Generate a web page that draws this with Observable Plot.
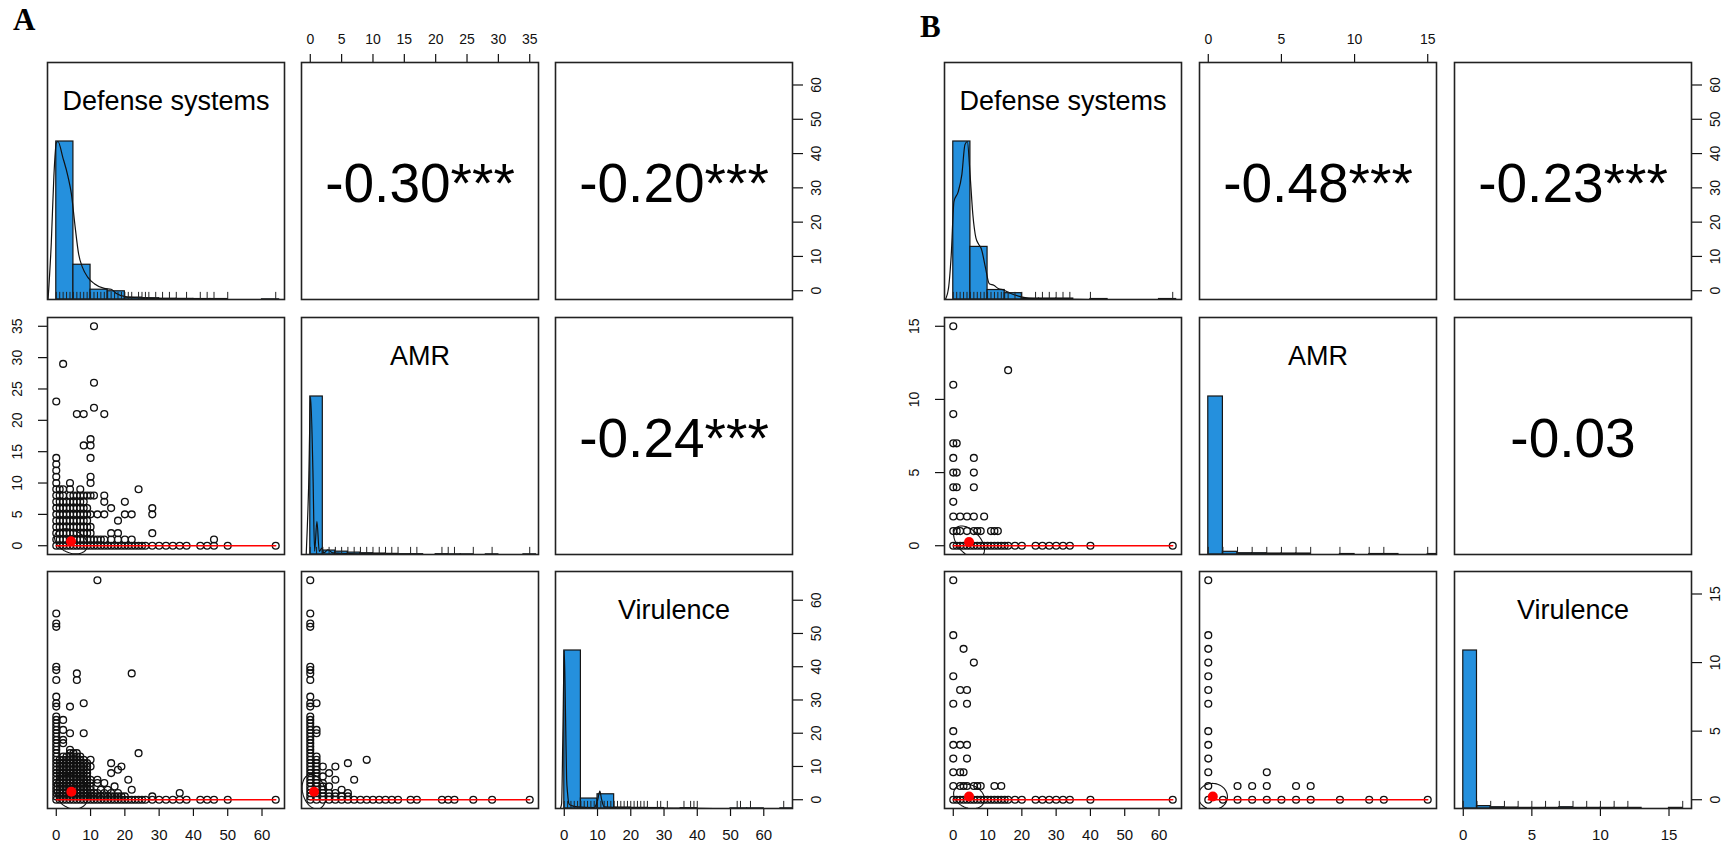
<!DOCTYPE html>
<html><head><meta charset="utf-8">
<script src="https://cdn.jsdelivr.net/npm/d3@7"></script>
<script src="https://cdn.jsdelivr.net/npm/@observablehq/plot@0.6"></script>
<style>
body{margin:0;background:#fff;}
#wrap{position:relative;width:1726px;height:844px;overflow:hidden;background:#fff;}
.tag{position:absolute;font-family:"Liberation Serif","Times New Roman",serif;font-weight:bold;font-size:31px;line-height:1;color:#000;}
</style></head><body><div id="wrap"><div class="tag" id="tagA">A</div><div class="tag" id="tagB">B</div></div>
<script>
// ---------------- DATA ----------------
const variableNames = ["Defense systems", "AMR", "Virulence"];

// Panel A
const rangeDefA = [0, 64], rangeAmrA = [0, 35], rangeVirA = [0, 66];
const ticksDefA = [0, 10, 20, 30, 40, 50, 60];
const ticksAmrA = [0, 5, 10, 15, 20, 25, 30, 35];
const ticksVirA = [0, 10, 20, 30, 40, 50, 60];
const corrA = ["-0.30***", "-0.20***", "-0.24***"];
const histDefA = [[0,5,1],[5,10,0.22],[10,15,0.062],[15,20,0.052],[20,25,0.012],[25,30,0.008],[30,35,0.005],[35,40,0.004],[40,45,0.003],[45,50,0.003],[60,65,0.001]];
const histAmrA = [[0,2,1],[2,4,0.025],[4,6,0.018],[6,8,0.012],[8,10,0.008],[10,12,0.006],[12,14,0.004],[14,16,0.002],[16,18,0.002],[20,22,0.002],[22,24,0.001],[24,26,0.001],[28,30,0.001],[34,36,0.001]];
const histVirA = [[0,5,1],[5,10,0.063],[10,15,0.09],[15,20,0.006],[20,25,0.004],[25,30,0.003],[35,40,0.002],[50,55,0.001],[55,60,0.001],[65,70,0.001]];
const densDefA = [[-2.4,0],[-1.45,0.36],[-0.7,0.78],[0.0,0.99],[0.5,1.0],[1.9,0.9],[3.4,0.78],[4.4,0.67],[5.5,0.46],[6.5,0.29],[7.7,0.2],[9.2,0.14],[11.1,0.1],[14,0.07],[16,0.065],[17.4,0.04],[20.8,0.015],[24.7,0.01],[35.4,0]];
const densAmrA = [[-0.65,0],[-0.27,0.42],[0.05,1.0],[0.42,0.53],[0.69,0.02],[1.06,0.21],[1.43,0.02],[1.85,0.04],[2.17,0.01],[2.8,0.03],[3.6,0.01],[4.9,0.008],[7.6,0.003],[10,0]];
const densVirA = [[-1.2,0],[-0.8,0.03],[-0.4,0.51],[0,1.0],[0.4,0.56],[0.7,0.19],[1,0.095],[1.4,0.03],[2,0.02],[4,0.01],[9,0.006],[10,0.05],[10.7,0.11],[11.2,0.06],[12,0.01],[18,0.005],[33,0.003],[45,0]];
const rugDefA = [0,1,2,3,4,5,6,7,8,9,10,11,12,13,14,15,16,17,18,19,20,21,22,24,25,26,27,29,31,33,35,38,42,44,46,50,64];
const rugAmrA = [0,1,2,3,4,5,6,7,8,9,10,11,12,13,14,16,17,21,22,23,26,29,35];
const rugVirA = [0,1,2,3,4,5,6,7,8,9,10,11,12,13,14,15,16,17,18,19,20,21,22,23,24,25,28,29,31,36,38,39,40,52,53,56,66];
// scatter rows: [y value, list of x values]
const scatDefAmrA = [
  [35,[11]],[29,[2]],[26,[11]],[23,[0]],[22,[11]],[21,[6,8,14]],[17,[10]],[16,[8,10]],[14,[0,10]],[13,[0]],[12,[0]],[11,[0,10]],[10,[0,4,10]],
  [9,[0,1,2,4,7,24]],[8,[0,1,2,4,5,6,7,8,9,10,11,14]],[7,[0,1,2,3,4,5,6,7,8,14,20]],[6,[0,1,2,3,4,5,6,7,8,9,16,28]],
  [5,[0,1,2,3,4,5,6,7,8,9,10,12,14,20,22,28]],[4,[0,1,2,3,4,5,6,7,8,9,18]],[3,[0,1,2,3,4,5,6,7,8,9,10]],
  [2,[0,1,2,3,4,5,6,7,8,9,10,16,18,28]],[1,[0,1,2,3,4,5,6,7,8,9,10,11,12,13,14,16,18,20,22,46]],
  [0,[0,1,2,3,4,5,6,7,8,9,10,11,12,13,14,15,16,17,18,19,20,21,22,23,24,25,26,28,30,32,34,36,38,42,44,46,50,64]]
];
const scatDefVirA = [
  [66,[12]],[56,[0]],[53,[0]],[52,[0]],[40,[0]],[39,[0]],[38,[6,22]],[36,[0,6]],[31,[0]],[29,[0,8]],[28,[0,4]],[25,[0]],[24,[0,2]],[23,[0]],[22,[0]],
  [21,[0,2]],[20,[0,4,8]],[19,[0]],[18,[0,2]],[17,[0,2]],[16,[0]],[15,[0,4]],[14,[0,4,5,6,24]],[13,[0,2,3,4,5,6,7]],[12,[0,1,2,3,4,5,6,7,8,10]],
  [11,[0,1,2,3,4,5,6,7,8,9,16]],[10,[0,1,2,3,4,5,6,7,8,9,10,19]],[9,[0,1,2,3,4,5,6,7,8,9,18]],[8,[0,1,2,3,4,5,6,7,8,9,16]],[7,[0,1,2,3,4,5,6,7,8,9]],
  [6,[0,1,2,3,4,5,6,7,8,9,10,12,21]],[5,[0,1,2,3,4,5,6,7,8,9,10,12,14]],[4,[0,1,2,3,4,5,6,7,8,9,10,17]],[3,[0,1,2,3,4,5,6,7,8,9,10,13,15,22]],
  [2,[0,1,2,3,4,5,6,7,8,9,10,11,12,14,16,18,36]],[1,[0,1,2,3,4,5,6,7,8,9,10,11,12,13,14,15,16,17,18,19,20,28]],
  [0,[0,1,2,3,4,5,6,7,8,9,10,11,12,13,14,15,16,17,18,19,20,21,22,23,24,25,26,28,30,32,34,36,38,42,44,46,50,64]]
];
const scatAmrVirA = [
  [66,[0]],[56,[0]],[53,[0]],[52,[0]],[40,[0]],[39,[0]],[38,[0]],[36,[0]],[31,[0]],[29,[0,1]],[28,[0]],[25,[0]],[24,[0]],[23,[0]],[22,[0]],
  [21,[0,1]],[20,[0,1]],[19,[0]],[18,[0]],[17,[0]],[16,[0]],[15,[0]],[14,[0]],[13,[0,1]],[12,[0,1,9]],[11,[0,1,6]],[10,[0,1,2,4]],[9,[0,1]],
  [8,[0,1,3]],[7,[0,1,2]],[6,[0,1,4,7]],[5,[0,1,2]],[4,[0,1,2,3]],[3,[0,1,2,5]],[2,[0,1,2,3,4,6]],[1,[0,1,2,3,4,5,6]],
  [0,[0,1,2,3,4,5,6,7,8,9,10,11,12,13,14,16,17,21,22,23,26,29,35]]
];
const meanA = [[4.3,0.7],[4.4,2.4],[0.6,2.4]];
const ellipseA = [[4.8,2.0,-0.30],[5.0,5.2,-0.20],[1.9,5.2,-0.24]];  // sd x, sd y, r
const smoothA = [[[0,0],[64,0]],[[0,0],[64,0]],[[0,0],[35,0]]];

// Panel B
const rangeDefB = [0, 64], rangeAmrB = [0, 15], rangeVirB = [0, 16];
const ticksDefB = [0, 10, 20, 30, 40, 50, 60];
const ticksAmrB = [0, 5, 10, 15];
const ticksVirB = [0, 5, 10, 15];
const corrB = ["-0.48***", "-0.23***", "-0.03"];
const histDefB = [[0,5,1],[5,10,0.333],[10,15,0.06],[15,20,0.04],[20,25,0.006],[25,30,0.006],[30,35,0.006],[40,45,0.003],[60,65,0.003]];
const histAmrB = [[0,1,1],[1,2,0.017],[2,3,0.008],[3,4,0.008],[4,5,0.006],[5,6,0.006],[6,7,0.006],[9,10,0.003],[11,12,0.003],[12,13,0.003],[15,16,0.003]];
const histVirB = [[0,1,1],[1,2,0.015],[2,3,0.008],[3,4,0.006],[4,5,0.004],[5,6,0.004],[6,7,0.004],[7,8,0.008],[8,9,0.004],[9,10,0.004],[10,11,0.004],[11,12,0.004],[12,13,0.004],[15,16,0.004]];
const densDefB = [[-2.3,0],[-1.4,0.07],[-0.6,0.28],[0.2,0.62],[1.4,0.68],[2.5,0.79],[3.4,0.98],[4.1,1.0],[4.9,0.79],[5.7,0.54],[6.6,0.39],[7.4,0.35],[8.2,0.32],[9.4,0.2],[10.5,0.1],[11.8,0.09],[13.1,0.07],[14.7,0.06],[16.6,0.04],[19.8,0.017],[24.6,0.004],[31,0.002],[40,0]];
const rugDefB = [0,1,2,3,4,5,6,7,8,9,10,11,12,13,14,15,16,18,20,24,26,28,30,32,34,40,64];
const rugAmrB = [0,1,2,3,4,5,6,7,9,11,12,15];
const rugVirB = [0,1,2,3,4,5,6,7,8,9,10,11,12,16];
const scatDefAmrB = [
  [15,[0]],[12,[16]],[11,[0]],[9,[0]],[7,[0,1]],[6,[0,6]],[5,[0,1,6]],[4,[0,1,6]],[3,[0]],[2,[0,2,4,6,9]],[1,[0,1,2,4,6,7,8,11,12,13]],
  [0,[0,1,2,3,4,5,6,7,8,9,10,11,12,13,14,15,16,18,20,24,26,28,30,32,34,40,64]]
];
const scatDefVirB = [
  [16,[0]],[12,[0]],[11,[3]],[10,[6]],[9,[0]],[8,[2,4]],[7,[0,4]],[5,[0]],[4,[0,2,4]],[3,[0,4]],[2,[0,2,3]],[1,[0,2,3,4,6,7,8,12,14]],
  [0,[0,1,2,3,4,5,6,7,8,9,10,11,12,13,14,15,16,18,20,24,26,28,30,32,34,40,64]]
];
const scatAmrVirB = [
  [16,[0]],[12,[0]],[11,[0]],[10,[0]],[9,[0]],[8,[0]],[7,[0]],[5,[0]],[4,[0]],[3,[0]],[2,[0,4]],[1,[0,2,3,4,6,7]],
  [0,[0,1,2,3,4,5,6,7,9,11,12,15]]
];
const meanB = [[4.6,0.25],[4.6,0.24],[0.31,0.24]];
const ellipseB = [[4.5,1.1,-0.48],[4.5,0.9,-0.23],[1.0,0.95,-0.03]];
const smoothB = [[[0,0],[64,0]],[[0,0],[64,0]],[[0,0],[15,0]]];

// ---------------- LAYOUT / STYLE ----------------
const wrap = document.getElementById("wrap");
const FONT = '"Liberation Sans", Arial, Helvetica, sans-serif';
const HIST = "#2590DD";
const PS = 237, M = 50;
const rowTop = [62.3, 316.8, 571.3];
const colLeftA = [46.6, 300.6, 554.6];
const colLeftB = [944, 1198.8, 1453.6];

document.getElementById("tagA").style.cssText = "left:13px;top:4px;";
document.getElementById("tagB").style.cssText = "left:920px;top:11px;";

function pad(r) { const d = (r[1] - r[0]) * 0.04; return [r[0] - d, r[1] + d]; }

function mk(left, top, xdom, ydom, marks, frame = true) {
  const svg = Plot.plot({
    width: PS + 2 * M, height: PS + 2 * M,
    marginTop: M, marginRight: M, marginBottom: M, marginLeft: M,
    x: {domain: xdom, axis: null}, y: {domain: ydom, axis: null},
    style: {background: "transparent", overflow: "visible", fontFamily: FONT, color: "#111"},
    marks: frame ? [...marks, Plot.frame({stroke: "#222", strokeWidth: 1.6})] : marks
  });
  svg.style.position = "absolute";
  svg.style.left = (left - M) + "px";
  svg.style.top = (top - M) + "px";
  svg.style.maxWidth = "none";
  wrap.appendChild(svg);
}

const topAxis = ticks => [Plot.axisX({ticks, anchor: "top", tickSize: 9, tickPadding: 10, fontSize: 14, strokeWidth: 1.2})];
const bottomAxis = ticks => [Plot.axisX({ticks, anchor: "bottom", tickSize: 8, tickPadding: 13, fontSize: 15, strokeWidth: 1.2})];
const rightAxis = ticks => [
  Plot.axisY({ticks, anchor: "right", tickSize: 10, tickFormat: () => "", strokeWidth: 1.2}),
  Plot.text(ticks, {y: d => d, text: d => String(d), frameAnchor: "right", rotate: -90, textAnchor: "middle", lineAnchor: "top", dx: 19, fontSize: 14, fill: "#111"})
];
const leftAxis = ticks => [
  Plot.axisY({ticks, anchor: "left", tickSize: 9, tickFormat: () => "", strokeWidth: 1.2}),
  Plot.text(ticks, {y: d => d, text: d => String(d), frameAnchor: "left", rotate: -90, textAnchor: "middle", lineAnchor: "bottom", dx: -26, fontSize: 14, fill: "#111"})
];

function ellipsePoints(center, e) {
  const [cx, cy] = center, [sx, sy, r] = e, d = Math.acos(r), pts = [];
  for (let k = 0; k <= 72; k++) { const t = k / 72 * 2 * Math.PI; pts.push([cx + sx * Math.cos(t + d / 2), cy + sy * Math.cos(t - d / 2)]); }
  return pts;
}

function matrix(cols, v) {
  const idx = {"1,0": 0, "2,0": 1, "2,1": 2};
  const cidx = {"0,1": 0, "0,2": 1, "1,2": 2};
  for (let i = 0; i < 3; i++) for (let j = 0; j < 3; j++) {
    const left = cols[j], top = rowTop[i];
    const xdom = pad(v.ranges[j]);
    let ydom = pad(v.ranges[i]);
    const marks = [];
    if (i === j) {
      ydom = [0, 1.5];
      marks.push(Plot.rect(v.hist[i], {x1: d => d[0], x2: d => d[1], y1: 0, y2: d => d[2], fill: HIST, stroke: "#161616", strokeWidth: 1.2, clip: true}));
      if (v.dens[i]) marks.push(Plot.line(v.dens[i], {x: d => d[0], y: d => d[1], stroke: "#111", strokeWidth: 1.2, curve: "monotone-x", clip: true}));
      marks.push(Plot.ruleX(v.rug[i], {x: d => d, y1: 0, y2: 0.045, stroke: "#222", strokeWidth: 1, clip: true}));
      marks.push(Plot.text([variableNames[i]], {text: d => d, frameAnchor: "top", lineAnchor: "top", dy: 28, fontSize: 27, fill: "#000"}));
    } else if (i < j) {
      marks.push(Plot.text([v.corr[cidx[i + "," + j]]], {text: d => d, frameAnchor: "middle", dy: 3, fontSize: 55, fill: "#000"}));
    } else {
      const k = idx[i + "," + j];
      const pts = v.scat[k].flatMap(([y, xs]) => xs.map(x => [x, y]));
      marks.push(Plot.dot(pts, {x: d => d[0], y: d => d[1], r: 3.4, stroke: "#111", strokeWidth: 1.35, fill: "none"}));
      marks.push(Plot.line(ellipsePoints(v.mean[k], v.ell[k]), {x: d => d[0], y: d => d[1], stroke: "#111", strokeWidth: 1.1, curve: "linear", clip: true}));
      marks.push(Plot.line(v.smooth[k], {x: d => d[0], y: d => d[1], stroke: "red", strokeWidth: 1.5}));
      marks.push(Plot.dot([v.mean[k]], {x: d => d[0], y: d => d[1], r: 5, fill: "red", stroke: "none"}));
    }
    if (i === 0 && j === 1) marks.push(...topAxis(v.ticks[j]));
    if (i === 1 && j === 0) marks.push(...leftAxis(v.ticks[i]));
    if (i === 2 && j % 2 === 0) marks.push(...bottomAxis(v.ticks[j]));
    if (j === 2 && i === 0) marks.push(...rightAxis(v.ticks[i]));
    mk(left, top, xdom, ydom, marks);
    if (i === 2 && j === 2) mk(left, top, xdom, pad(v.ranges[i]), rightAxis(v.ticks[i]), false);
  }
}

matrix(colLeftA, {
  ranges: [rangeDefA, rangeAmrA, rangeVirA], ticks: [ticksDefA, ticksAmrA, ticksVirA], corr: corrA,
  hist: [histDefA, histAmrA, histVirA], dens: [densDefA, densAmrA, densVirA], rug: [rugDefA, rugAmrA, rugVirA],
  scat: [scatDefAmrA, scatDefVirA, scatAmrVirA], mean: meanA, ell: ellipseA, smooth: smoothA
});
matrix(colLeftB, {
  ranges: [rangeDefB, rangeAmrB, rangeVirB], ticks: [ticksDefB, ticksAmrB, ticksVirB], corr: corrB,
  hist: [histDefB, histAmrB, histVirB], dens: [densDefB, null, null], rug: [rugDefB, rugAmrB, rugVirB],
  scat: [scatDefAmrB, scatDefVirB, scatAmrVirB], mean: meanB, ell: ellipseB, smooth: smoothB
});
</script></body></html>
